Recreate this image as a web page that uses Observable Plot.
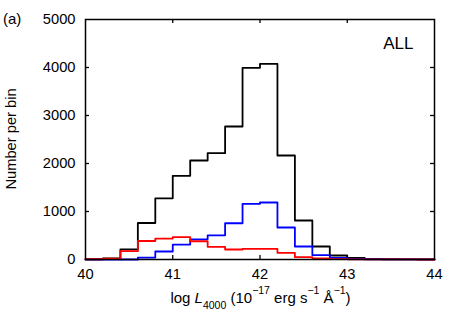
<!DOCTYPE html>
<html><head><meta charset="utf-8">
<script src="https://cdn.jsdelivr.net/npm/d3@7"></script>
<script src="https://cdn.jsdelivr.net/npm/@observablehq/plot@0.6"></script>
<style>
body{margin:0;background:#fff}
svg{font-family:"Liberation Sans",Arial,Helvetica,sans-serif}
</style>
</head><body><div id="chart"></div>
<script>
// Bin edges (log L4000), 0.2 dex bins from 40 to 44
const binEdges = [40.0,40.2,40.4,40.6,40.8,41.0,41.2,41.4,41.6,41.8,42.0,42.2,42.4,42.6,42.8,43.0,43.2,43.4,43.6,43.8,44.0];
// Counts per bin (20 bins)
const allCounts  = [5, 25, 210, 760, 1275, 1743, 2063, 2215, 2771, 3993, 4076, 2167, 813, 271, 83, 35, 10, 5, 2, 1];
const blueCounts = [0, 0, 0, 40, 167, 310, 420, 503, 755, 1160, 1188, 667, 271, 90, 35, 10, 5, 2, 1, 0];
const redCounts  = [5, 20, 174, 385, 435, 468, 380, 265, 208, 222, 222, 139, 49, 21, 7, 4, 3, 2, 1, 0];
const xTicks = [40, 41, 42, 43, 44];
const yTicks = [0, 1000, 2000, 3000, 4000, 5000];
const panelLabel = "(a)";
const sampleLabel = "ALL";
const yLabel = "Number per bin";

function steps(counts) {
  return binEdges.map((x, i) => ({x, y: counts[Math.min(i, counts.length - 1)]}));
}

const W = 463, H = 324, mL = 85, mR = 29, mT = 19, mB = 65;
const innerW = W - mL - mR, innerH = H - mT - mB;
const tk = 4;

const chart = Plot.plot({
  width: W, height: H,
  marginLeft: mL, marginRight: mR, marginTop: mT, marginBottom: mB,
  style: {fontSize: "14.7px", fontFamily: '"Liberation Sans", Arial, sans-serif', color: "black", background: "white"},
  x: {domain: [40, 44]},
  y: {domain: [0, 5000]},
  marks: [
    Plot.axisX({ticks: xTicks, tickSize: 0, tickPadding: 9, label: null, tickFormat: d => String(d)}),
    Plot.axisY({ticks: yTicks, tickSize: 0, tickPadding: 10, label: null, tickFormat: d => String(d)}),
    Plot.tickX(xTicks.slice(1, -1), {x: d => d, insetTop: innerH - tk, stroke: "black", strokeWidth: 1.3}),
    Plot.tickX(xTicks.slice(1, -1), {x: d => d, insetBottom: innerH - tk, stroke: "black", strokeWidth: 1.3}),
    Plot.tickY(yTicks.slice(1, -1), {y: d => d, insetRight: innerW - tk, stroke: "black", strokeWidth: 1.3}),
    Plot.tickY(yTicks.slice(1, -1), {y: d => d, insetLeft: innerW - tk, stroke: "black", strokeWidth: 1.3}),
    Plot.lineY(steps(allCounts), {x: "x", y: "y", curve: "step-after", stroke: "black", strokeWidth: 1.8}),
    Plot.lineY(steps(blueCounts), {x: "x", y: "y", curve: "step-after", stroke: "#0000ff", strokeWidth: 1.8}),
    Plot.lineY(steps(redCounts), {x: "x", y: "y", curve: "step-after", stroke: "#ff0000", strokeWidth: 1.8}),
    Plot.frame({stroke: "black", strokeWidth: 1.5}),
    Plot.text([sampleLabel], {frameAnchor: "top-right", dx: -21, dy: 17, lineAnchor: "top", textAnchor: "end", fontSize: 17, fill: "black"})
  ]
});

const svg = d3.select(chart);
// panel label
svg.append("text").attr("x", 3).attr("y", 24).attr("text-anchor", "start")
  .attr("font-size", 15).attr("fill", "black").text(panelLabel);
// y label
svg.append("text").attr("transform", `translate(16,${mT + innerH / 2}) rotate(-90)`)
  .attr("text-anchor", "middle").attr("font-size", 14.7).attr("fill", "black").text(yLabel);
// x label with sub/superscripts
const xl = svg.append("text").attr("x", mL + innerW / 2 + 1).attr("y", 303)
  .attr("text-anchor", "middle").attr("font-size", 15).attr("fill", "black");
const parts = [
  ["log ", 0, null, false],
  ["L", 0, null, true],
  ["4000", 6, 10.5, false],
  [" (10", -6, null, false],
  ["\u221217", -9, 10.5, false],
  [" erg s", 9, null, false],
  ["\u22121", -9, 10.5, false],
  [" \u00C5", 9, null, false],
  ["\u22121", -9, 10.5, false],
  [")", 9, null, false]
];
for (const [txt, dy, fs, it] of parts) {
  const ts = xl.append("tspan").text(txt);
  if (dy) ts.attr("dy", dy);
  if (fs) ts.attr("font-size", fs);
  if (it) ts.attr("font-style", "italic");
}
document.getElementById("chart").appendChild(chart);
</script>
</body></html>
